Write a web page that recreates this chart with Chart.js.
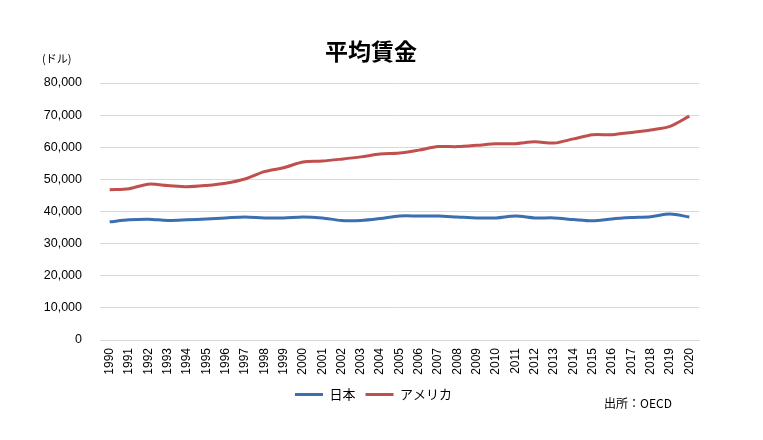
<!DOCTYPE html>
<html lang="ja">
<head>
    <meta charset="UTF-8">
    <title>平均賃金</title>
    <script src="https://cdn.jsdelivr.net/npm/chart.js"></script>
    <style>
        body { margin: 0; background: #fff; }
        #wageChart { display: block; }
    </style>
</head>
<body>
    <canvas id="wageChart" width="763" height="440"></canvas>

    <script>
        // 年 (x軸ラベル)
        const years = ['1990','1991','1992','1993','1994','1995','1996','1997','1998','1999',
                       '2000','2001','2002','2003','2004','2005','2006','2007','2008','2009',
                       '2010','2011','2012','2013','2014','2015','2016','2017','2018','2019','2020'];

        // 平均賃金 (ドル) - グラフから読み取った値
        const japanWages = [36800, 37400, 37600, 37200, 37400, 37700, 38000, 38300, 38000, 38000,
                            38300, 38000, 37200, 37200, 37800, 38600, 38600, 38600, 38300, 38000,
                            38000, 38600, 38000, 38000, 37500, 37100, 37700, 38100, 38400, 39200, 38300];
        const usaWages = [46800, 47100, 48500, 48100, 47700, 48100, 48800, 50100, 52400, 53600,
                          55400, 55700, 56300, 57000, 57900, 58200, 59100, 60200, 60200, 60600,
                          61100, 61100, 61700, 61300, 62600, 63900, 63900, 64600, 65400, 66500, 69700];

        const yTicks = [0, 10000, 20000, 30000, 40000, 50000, 60000, 70000, 80000];

        const baseFont = "'Liberation Sans', 'Noto Sans CJK JP', sans-serif";
        const jpFont = "'Noto Sans CJK JP', sans-serif";

        // タイトル・単位・出所を描く
        const extraText = {
            id: 'extraText',
            afterLayout(chart) {
                // 目盛ラベルが切れないように y軸の左端を広げる
                chart.scales.y.left = 0;
            },
            afterDraw(chart) {
                const ctx = chart.ctx;
                ctx.save();
                ctx.fillStyle = '#000';
                ctx.textBaseline = 'middle';

                ctx.textAlign = 'center';
                ctx.font = 'bold 23px ' + jpFont;
                ctx.fillText('平均賃金', 371, 51);

                ctx.textAlign = 'left';
                ctx.font = '11px ' + jpFont;
                ctx.fillText('(ドル)', 42, 59);

                ctx.font = '12px ' + jpFont;
                ctx.fillText('出所：OECD', 604, 403);
                ctx.restore();
            }
        };

        const ctx = document.getElementById('wageChart').getContext('2d');

        new Chart(ctx, {
            type: 'line',
            data: {
                labels: years,
                datasets: [
                    {
                        label: '日本',
                        data: japanWages,
                        borderColor: '#3c6fb0',
                        backgroundColor: '#3c6fb0',
                        borderWidth: 3,
                        pointRadius: 0,
                        tension: 0.3
                    },
                    {
                        label: 'アメリカ',
                        data: usaWages,
                        borderColor: '#c0504d',
                        backgroundColor: '#c0504d',
                        borderWidth: 3,
                        pointRadius: 0,
                        tension: 0.3
                    }
                ]
            },
            options: {
                responsive: false,
                animation: false,
                layout: {
                    padding: { top: 83, left: 48, right: 64, bottom: 29 }
                },
                plugins: {
                    title: { display: false },
                    tooltip: { enabled: false },
                    legend: {
                        position: 'bottom',
                        labels: {
                            usePointStyle: true,
                            pointStyle: 'line',
                            pointStyleWidth: 28,
                            padding: 10,
                            color: '#000',
                            font: { size: 13, family: jpFont }
                        }
                    }
                },
                scales: {
                    x: {
                        offset: true,
                        grid: { display: false, drawTicks: false },
                        border: { display: true, color: '#d9d9d9', width: 1 },
                        ticks: {
                            minRotation: 90,
                            maxRotation: 90,
                            autoSkip: false,
                            padding: 8,
                            color: '#000',
                            font: { size: 12, family: baseFont }
                        },
                        afterFit(scale) { scale.height = 38; }
                    },
                    y: {
                        min: 0,
                        max: 80000,
                        afterBuildTicks(scale) {
                            scale.ticks = yTicks.map(v => ({ value: v }));
                        },
                        grid: { color: '#d9d9d9', drawTicks: false },
                        border: { display: false },
                        ticks: {
                            padding: 18,
                            color: '#000',
                            font: { size: 12.5, family: baseFont },
                            callback: v => v.toLocaleString('en-US')
                        },
                        afterFit(scale) { scale.width = 52; }
                    }
                }
            },
            plugins: [extraText]
        });
    </script>
</body>
</html>
